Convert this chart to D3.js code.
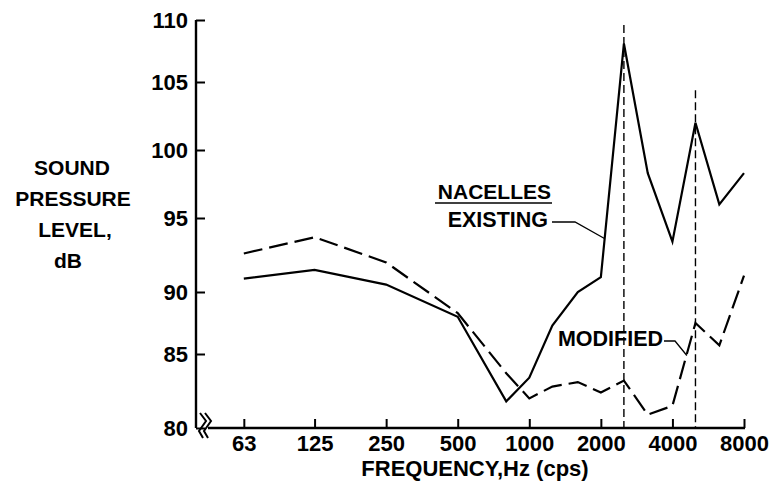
<!DOCTYPE html>
<html>
<head>
<meta charset="utf-8">
<script src="https://cdn.jsdelivr.net/npm/d3@7"></script>
<style>
  html, body { margin: 0; padding: 0; background: #fff; }
  svg { display: block; }
  text { font-family: "Liberation Sans", Arial, Helvetica, sans-serif; font-weight: bold; fill: #000; }
</style>
</head>
<body>
<svg id="chart" width="779" height="489"></svg>
<script>
// ---- data ----
const freqs    = [63, 125, 250, 500, 800, 1000, 1250, 1600, 2000, 2500, 3150, 4000, 5000, 6300, 8000];
const existing = [90.9, 91.5, 90.5, 88.0, 81.8, 83.4, 87.3, 90.0, 91.0, 108.1, 98.3, 93.4, 102.0, 96.0, 98.3];
const modified = [92.6, 93.7, 92.0, 88.3, 83.7, 82.0, 82.8, 83.1, 82.4, 83.2, 80.9, 81.5, 87.5, 85.7, 91.1];
const xTickValues = [63, 125, 250, 500, 1000, 2000, 4000, 8000];
const yTickValues = [80, 85, 90, 95, 100, 105, 110];
const markerFreqs = [2500, 5000];
const markerTops  = [109.6, 104.4];
const yTitleLines = ["SOUND", "PRESSURE", "LEVEL,", "dB"];
const xTitle = "FREQUENCY,Hz (cps)";
// annotation anchors (on the curves): freq, value
const existingAnchor = {f: 2080, v: 93.6};
const modifiedAnchor = {f: 4600, v: 84.9};

// ---- scales ----
const svg = d3.select("#chart");
const x = d3.scaleLog().domain([62.5, 8000]).range([243, 744]);
// the original's tick spacing is slightly irregular: polylinear scale reproduces it
const y = d3.scaleLinear().domain(yTickValues).range([428, 354, 292, 218, 150, 82, 20]);

const axisX0 = 196, axisY0 = 428;

// ---- axes ----
const yAxis = d3.axisLeft(y).tickValues(yTickValues).tickSizeInner(-9).tickSizeOuter(0).tickPadding(8);
const gy = svg.append("g").attr("transform", `translate(${axisX0},0)`).call(yAxis);
gy.select(".domain").remove();
gy.selectAll(".tick line").attr("stroke", "#000").attr("stroke-width", 2);
gy.selectAll(".tick text").attr("font-size", 22).attr("font-family", null);
svg.append("line").attr("x1", axisX0).attr("x2", axisX0).attr("y1", y(110)).attr("y2", axisY0)
  .attr("stroke", "#000").attr("stroke-width", 2.4);

const xAxis = d3.axisBottom(x).tickValues(xTickValues).tickFormat(d3.format("d"))
  .tickSizeInner(-9).tickSizeOuter(0).tickPadding(7);
const gx = svg.append("g").attr("transform", `translate(0,${axisY0})`).call(xAxis);
gx.select(".domain").remove();
gx.selectAll(".tick line").attr("stroke", "#000").attr("stroke-width", 2);
gx.selectAll(".tick text").attr("font-size", 22).attr("font-family", null);
svg.append("line").attr("x1", 208).attr("x2", x(8000) + 1).attr("y1", axisY0).attr("y2", axisY0)
  .attr("stroke", "#000").attr("stroke-width", 2.4);

// axis break symbol
[0, 5].forEach(o => {
  svg.append("path")
    .attr("d", `M${200 + o},413 L${206 + o},421 L${199 + o},431 L${203 + o},438`)
    .attr("fill", "none").attr("stroke", "#000").attr("stroke-width", 2);
});

// ---- vertical dashed markers ----
markerFreqs.forEach((f, i) => {
  svg.append("line")
    .attr("x1", x(f)).attr("x2", x(f))
    .attr("y1", y(markerTops[i])).attr("y2", axisY0)
    .attr("stroke", "#000").attr("stroke-width", 1.4)
    .attr("stroke-dasharray", "8,4");
});

// ---- series ----
const line = d3.line().x((d, i) => x(freqs[i])).y(d => y(d));
svg.append("path").datum(existing).attr("d", line)
  .attr("fill", "none").attr("stroke", "#000").attr("stroke-width", 2.2).attr("stroke-linejoin", "miter");
svg.append("path").datum(modified).attr("d", line)
  .attr("fill", "none").attr("stroke", "#000").attr("stroke-width", 2.2)
  .attr("stroke-dasharray", "19,7");

// ---- axis titles ----
const yTitleX = [72, 73, 75, 68];
yTitleLines.forEach((t, i) => {
  svg.append("text").attr("x", yTitleX[i]).attr("y", 175 + i * 31)
    .attr("text-anchor", "middle").attr("font-size", 21).text(t);
});
svg.append("text").attr("x", 475).attr("y", 476).attr("text-anchor", "middle")
  .attr("font-size", 22).text(xTitle);

// ---- annotations ----
const ea = {x: x(existingAnchor.f), y: y(existingAnchor.v)};
svg.append("text").attr("x", 551).attr("y", 199).attr("text-anchor", "end").attr("font-size", 21).text("NACELLES");
svg.append("line").attr("x1", 435).attr("x2", 552).attr("y1", 203).attr("y2", 203)
  .attr("stroke", "#000").attr("stroke-width", 1.6);
svg.append("text").attr("x", 548).attr("y", 227).attr("text-anchor", "end").attr("font-size", 21.5).text("EXISTING");
svg.append("path").attr("d", `M552,222 L575,222 L${ea.x},${ea.y}`)
  .attr("fill", "none").attr("stroke", "#000").attr("stroke-width", 1.3);

const ma = {x: x(modifiedAnchor.f), y: y(modifiedAnchor.v)};
svg.append("text").attr("x", 663).attr("y", 346).attr("text-anchor", "end").attr("font-size", 21.5).text("MODIFIED");
svg.append("path").attr("d", `M664,341 L675,341 L${ma.x},${ma.y}`)
  .attr("fill", "none").attr("stroke", "#000").attr("stroke-width", 1.3);
</script>
</body>
</html>
